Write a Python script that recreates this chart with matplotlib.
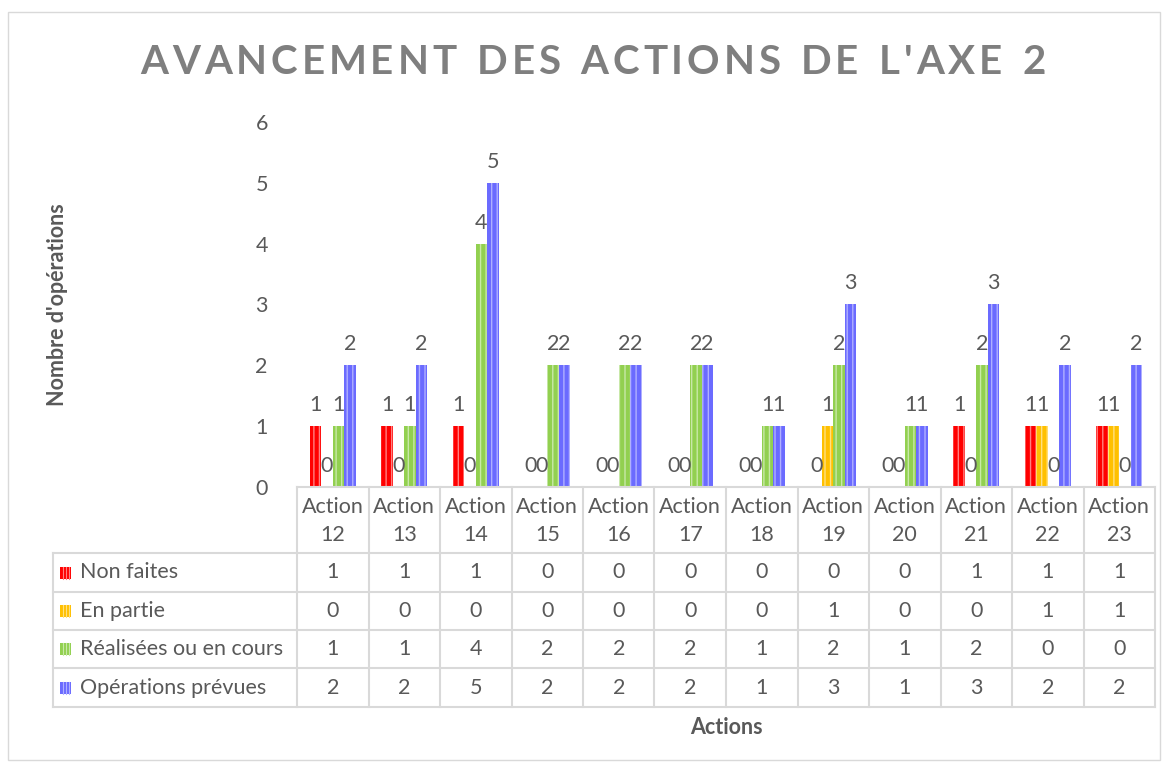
import matplotlib
matplotlib.use("Agg")
import matplotlib.pyplot as plt
import numpy as np

categories = ["Action\n12", "Action\n13", "Action\n14", "Action\n15", "Action\n16", "Action\n17",
              "Action\n18", "Action\n19", "Action\n20", "Action\n21", "Action\n22", "Action\n23"]
series_names = ["Non faites", "En partie", "Réalisées ou en cours", "Opérations prévues"]
non_faites = [1, 1, 1, 0, 0, 0, 0, 0, 0, 1, 1, 1]
en_partie = [0, 0, 0, 0, 0, 0, 0, 1, 0, 0, 1, 1]
realisees = [1, 1, 4, 2, 2, 2, 1, 2, 1, 2, 0, 0]
prevues = [2, 2, 5, 2, 2, 2, 1, 3, 1, 3, 2, 2]
series = [non_faites, en_partie, realisees, prevues]
colors = ["#FF0000", "#FFC000", "#92D050", "#6B6BFF"]
stripe = ["#FF8080", "#FFE080", "#C8E8A8", "#B0B0FF"]
yticks = [0, 1, 2, 3, 4, 5, 6]

plt.rcParams['font.family'] = ['Lato', 'DejaVu Sans']
W, H = 1168, 765
fig = plt.figure(figsize=(W / 100, H / 100), dpi=100)
TXT = "#595959"
GRID = "#D9D9D9"
FS = 15.5

def fx(x):
    return x / W

def fy(y):
    return 1 - y / H

# outer border
fig.add_artist(plt.Rectangle((fx(8), fy(760)), fx(1160 - 8), (760 - 12) / H, transform=fig.transFigure,
                             fill=False, edgecolor=GRID, lw=1))

x0, x1, y0, y1 = 297, 1155, 487, 122
ax = fig.add_axes([fx(x0), fy(y0), fx(x1 - x0), (y0 - y1) / H])
ax.set_xlim(0, len(categories))
ax.set_ylim(0, 6)
for s in ax.spines.values():
    s.set_visible(False)
ax.set_xticks([])
ax.set_yticks(yticks)
ax.tick_params(axis='y', length=0, labelsize=FS, labelcolor=TXT, pad=21)

bw = 0.16
xs = np.arange(len(categories)) + 0.5
for i, (vals, c, sc) in enumerate(zip(series, colors, stripe)):
    pos = xs + (i - 1.5) * bw
    ax.bar(pos, vals, width=bw, color=c, edgecolor='none', linewidth=0)
    plt.rcParams['hatch.color'] = sc
    plt.rcParams['hatch.linewidth'] = 1.0
    ax.bar(pos, vals, width=bw, color='none', edgecolor=sc, linewidth=0, hatch='|||')
    for p, v in zip(pos, vals):
        ax.annotate(str(v), (p, v), xytext=(0, 8), textcoords='offset points', ha='center', va='bottom',
                    fontsize=FS, color=TXT, annotation_clip=False)

# table
cw = (x1 - x0) / len(categories)
rows = [553, 592, 630, 668, 707]
def line(xa, ya, xb, yb):
    fig.add_artist(plt.Line2D([fx(xa), fx(xb)], [fy(ya), fy(yb)], transform=fig.transFigure, color=GRID, lw=1.5))

line(x0, y0, x1, y0)
for k in range(len(categories) + 1):
    line(x0 + k * cw, y0, x0 + k * cw, rows[-1])
line(53, rows[0], 53, rows[-1])
for r in rows:
    line(53, r, x1, r)

for k, cat in enumerate(categories):
    fig.text(fx(x0 + (k + 0.5) * cw), fy((y0 + rows[0]) / 2 + 1), cat, ha='center', va='center',
             fontsize=FS, color=TXT, linespacing=1.55)

for j, (name, vals, c, sc) in enumerate(zip(series_names, series, colors, stripe)):
    yc = (rows[j] + rows[j + 1]) / 2
    fig.add_artist(plt.Rectangle((fx(60), fy(yc + 6)), fx(11), 12 / H, transform=fig.transFigure,
                                 facecolor=c, edgecolor='none'))
    for sx in (62.5, 65.5, 68.5):
        fig.add_artist(plt.Line2D([fx(sx), fx(sx)], [fy(yc + 6), fy(yc - 6)], transform=fig.transFigure,
                                  color=sc, lw=0.8))
    fig.text(fx(80), fy(yc), name, ha='left', va='center', fontsize=FS, color=TXT)
    for k, v in enumerate(vals):
        fig.text(fx(x0 + (k + 0.5) * cw), fy(yc), str(v), ha='center', va='center', fontsize=FS, color=TXT)

fig.text(fx(726), fy(727), "Actions", ha='center', va='center', fontsize=FS, fontweight='bold', color=TXT)
fig.text(fx(58), fy(305), "Nombre d'opérations", ha='center', va='center', rotation=90,
         fontsize=FS, fontweight='bold', color=TXT)

# title with letter spacing
title = "AVANCEMENT DES ACTIONS DE L'AXE 2"
fig.canvas.draw()
r = fig.canvas.get_renderer()
widths = []
for ch in title:
    t = fig.text(0, 0, ch if ch != ' ' else 'n', fontsize=29, fontweight='bold')
    bb = t.get_window_extent(r)
    widths.append(bb.width * (0.55 if ch == ' ' else 1.0))
    t.remove()
spacing = 3.9
total = sum(widths) + spacing * (len(title) - 1)
start = 593 - total / 2
cx = start
for ch, w in zip(title, widths):
    if ch != ' ':
        fig.text(fx(cx), fy(62), ch, ha='left', va='center', fontsize=29, fontweight='bold', color="#7F7F7F")
    cx += w + spacing

fig.savefig("out.png", dpi=100)
